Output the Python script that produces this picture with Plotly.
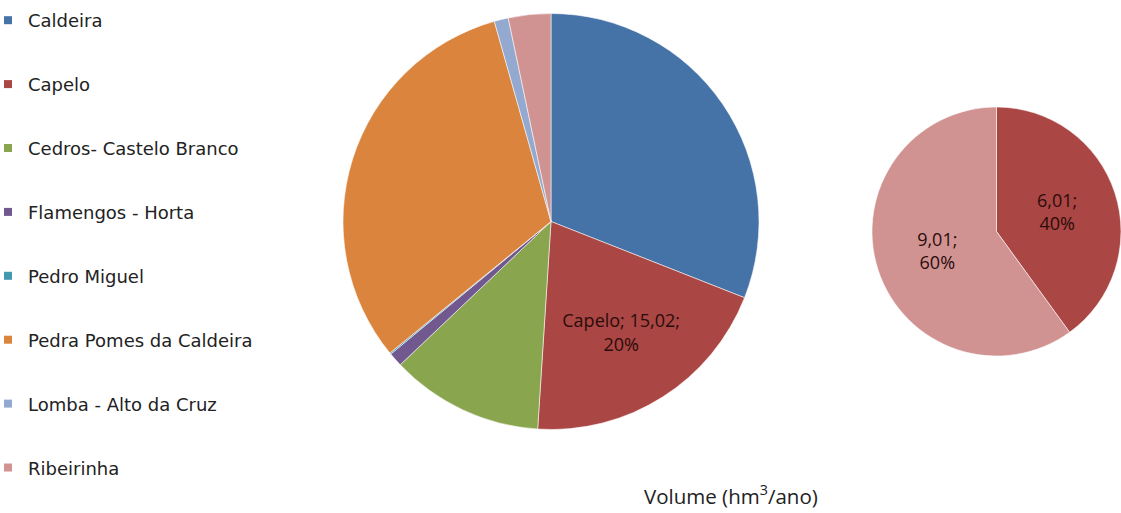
import plotly.graph_objects as go

categories = ["Caldeira", "Capelo", "Cedros- Castelo Branco", "Flamengos - Horta",
              "Pedro Miguel", "Pedra Pomes da Caldeira", "Lomba - Alto da Cruz", "Ribeirinha"]
volumes = [23.2, 15.02, 8.9, 0.82, 0.08, 23.6, 0.82, 2.47]
main_text = ["", "Capelo; 15,02;<br>20%", "", "", "", "", "", ""]
colors = ["#4572A7", "#AA4643", "#89A54E", "#71588F", "#4198AF", "#DB843D", "#93A9CF", "#D19392"]

sub_labels = ["Capelo", "Ribeirinha"]
sub_values = [6.01, 9.01]
sub_text = ["6,01;<br>40%", "9,01;<br>60%"]
sub_colors = ["#AA4643", "#D19392"]

W, H = 1121, 513
fig = go.Figure()

fig.add_trace(go.Pie(
    labels=categories, values=volumes, text=main_text, textinfo="text",
    textposition="inside", insidetextorientation="horizontal",
    sort=False, direction="clockwise", rotation=0,
    marker=dict(colors=colors, line=dict(color="rgba(255,255,255,0.55)", width=1)),
    textfont=dict(family="Open Sans", size=18, color="#2a0c0c"),
    showlegend=False, hoverinfo="label+value+percent",
    domain=dict(x=[343 / W, 759 / W], y=[1 - 431 / H, 1 - 12 / H]),
))

fig.add_trace(go.Pie(
    labels=sub_labels, values=sub_values, text=sub_text, textinfo="text",
    textposition="inside", insidetextorientation="horizontal",
    sort=False, direction="clockwise", rotation=0,
    marker=dict(colors=sub_colors, line=dict(color="rgba(255,255,255,0.55)", width=1)),
    textfont=dict(family="Open Sans", size=18, color="#2a0c0c"),
    showlegend=False,
    domain=dict(x=[872 / W, 1.0], y=[1 - 360 / H, 1 - 103 / H]),
))

for i, (name, col) in enumerate(zip(categories, colors)):
    fig.add_trace(go.Scatter(
        x=[None], y=[None], mode="markers", name=name, legendgroup=f"g{i}",
        marker=dict(symbol="square", size=8, color=col),
        hoverinfo="skip",
    ))

fig.add_annotation(
    text="Volume (hm<sup>3</sup>/ano)", x=731 / W, y=1 - 497 / H,
    xref="paper", yref="paper", showarrow=False, yshift=-15,
    font=dict(family="Open Sans", size=20.5, color="#222222"),
)

fig.update_layout(
    width=W, height=H,
    margin=dict(l=0, r=0, t=0, b=0, autoexpand=False),
    paper_bgcolor="white", plot_bgcolor="white",
    xaxis=dict(visible=False), yaxis=dict(visible=False),
    legend=dict(
        x=-12 / W, y=1 - 2 / H, xanchor="left", yanchor="top",
        tracegroupgap=37.5,
        font=dict(family="DejaVu Sans", size=18, color="#222222"),
        bgcolor="rgba(0,0,0,0)",
    ),
    showlegend=True,
)

fig.write_html("out.html", config={"displayModeBar": False},
               post_script="document.body.style.margin='0';")
